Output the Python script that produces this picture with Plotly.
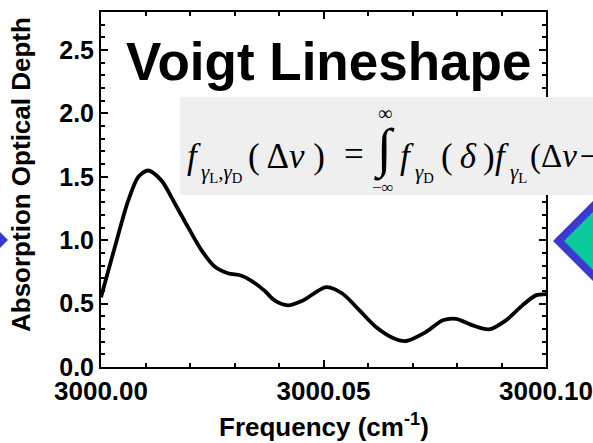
import plotly.graph_objects as go

# ---- data ----
freq = [3000.0000, 3000.0031, 3000.0061, 3000.0084, 3000.0106, 3000.0136,
        3000.0166, 3000.0196, 3000.0226, 3000.0256, 3000.0285, 3000.0316,
        3000.0338, 3000.0368, 3000.0390, 3000.0420, 3000.0454, 3000.0506,
        3000.0543, 3000.0581, 3000.0618, 3000.0655, 3000.0685, 3000.0730,
        3000.0768, 3000.0798, 3000.0835, 3000.0872, 3000.0910, 3000.0947,
        3000.0977, 3000.1000]
depth = [0.55, 0.945, 1.31, 1.50, 1.55, 1.47,
         1.29, 1.10, 0.92, 0.79, 0.74, 0.72,
         0.68, 0.60, 0.525, 0.486, 0.525, 0.63,
         0.578, 0.446, 0.315, 0.231, 0.205, 0.276,
         0.368, 0.38, 0.328, 0.297, 0.368, 0.486,
         0.565, 0.575]

title_text = "Voigt Lineshape"
x_title = "Frequency (cm<sup>-1</sup>)"
y_title = "Absorption Optical Depth"

W, H = 593, 443
L, R, T, B = 101, 546, 12, 367


def px(x):
    return (x - L) / (R - L)


def py(y):
    return (B - y) / (B - T)


fig = go.Figure()
fig.add_trace(go.Scatter(x=freq, y=depth, mode="lines",
                         line=dict(color="black", width=3.8, shape="spline", smoothing=0.8),
                         showlegend=False, hoverinfo="skip"))

axis_font = dict(family="Liberation Sans, Arial, sans-serif", color="black", weight="bold")
common = dict(showline=True, linecolor="black", linewidth=2, mirror="allticks",
              ticks="inside", tickcolor="black", tickwidth=1.5, ticklen=7,
              showgrid=False, zeroline=False, automargin=False)

fig.update_xaxes(range=[3000.0, 3000.1], tick0=3000.0, dtick=0.05, tickformat=".2f",
                 tickfont=dict(size=26, **axis_font),
                 minor=dict(dtick=0.01, ticks="inside", ticklen=4, tickwidth=1.5, tickcolor="black"),
                 **common)
fig.update_yaxes(range=[0, 2.8], tick0=0, dtick=0.5, tickformat=".1f",
                 tickfont=dict(size=25, **axis_font),
                 minor=dict(dtick=0.1, ticks="inside", ticklen=4, tickwidth=1.5, tickcolor="black"),
                 **common)

shapes = []
# formula box (drawn over the right axis)
shapes.append(dict(type="rect", xref="paper", yref="paper", layer="above",
                   x0=px(180), x1=px(620), y0=py(195), y1=py(97),
                   fillcolor="#efefef", line=dict(width=0)))
# right diamond
blue, green = "#3b39cf", "#0dca9c"
def diamond(x_left, yc, d):
    return (f"M {px(x_left)} {py(yc)} L {px(x_left + d)} {py(yc - d)} "
            f"L {px(x_left + 2 * d)} {py(yc)} L {px(x_left + d)} {py(yc + d)} Z")
shapes.append(dict(type="path", xref="paper", yref="paper", layer="above",
                   path=diamond(553, 241, 120), fillcolor=blue, line=dict(width=0)))
shapes.append(dict(type="path", xref="paper", yref="paper", layer="above",
                   path=diamond(564, 241, 109), fillcolor=green, line=dict(width=0)))
# left diamond tip
shapes.append(dict(type="path", xref="paper", yref="paper", layer="above",
                   path=f"M {px(-20)} {py(212)} L {px(8)} {py(240)} L {px(-20)} {py(268)} Z",
                   fillcolor=blue, line=dict(width=0)))

ann = []
ann.append(dict(text=title_text, xref="paper", yref="paper", x=px(328.5), y=py(61.5),
                xanchor="center", yanchor="middle", showarrow=False,
                font=dict(size=53, **axis_font)))
ann.append(dict(text=x_title, xref="paper", yref="paper", x=px(324), y=py(425),
                xanchor="center", yanchor="middle", showarrow=False,
                font=dict(size=26, **axis_font)))
ann.append(dict(text=y_title, xref="paper", yref="paper", x=px(21), y=py(175),
                xanchor="center", yanchor="middle", showarrow=False, textangle=-90,
                font=dict(size=26, **axis_font)))

serif = "Liberation Serif, Times New Roman, serif"
def piece(text, x, y, size, anchor="left"):
    ann.append(dict(text=text, xref="paper", yref="paper", x=px(x), y=py(y),
                    xanchor=anchor, yanchor="middle", showarrow=False, borderpad=0,
                    font=dict(size=size, family=serif, color="black")))

piece("<i>f</i>", 186, 156, 35)
piece("<i>γ</i><sub>L</sub>,<i>γ</i><sub>D</sub>", 200, 173, 21)
piece("( Δ<i>ν</i> )", 247, 156, 35)
piece("=", 343, 154, 35)
piece("∫", 384, 149, 54, "center")
piece("∞", 385, 113, 20, "center")
piece("−∞", 383, 187, 17, "center")
piece("<i>f</i>", 399, 156, 35)
piece("<i>γ</i><sub>D</sub>", 414, 173, 21)
piece("(\u2009<i>δ</i>\u2009)", 440, 156, 35)
piece("<i>f</i>", 494, 156, 35)
piece("<i>γ</i><sub>L</sub>", 509, 173, 21)
piece("(Δ<i>ν</i>\u200a−", 529, 156, 33)

fig.update_layout(width=W, height=H, margin=dict(l=L, r=W - R, t=T, b=H - B),
                  paper_bgcolor="white", plot_bgcolor="white",
                  shapes=shapes, annotations=ann, showlegend=False)

fig.write_html("out.html")
